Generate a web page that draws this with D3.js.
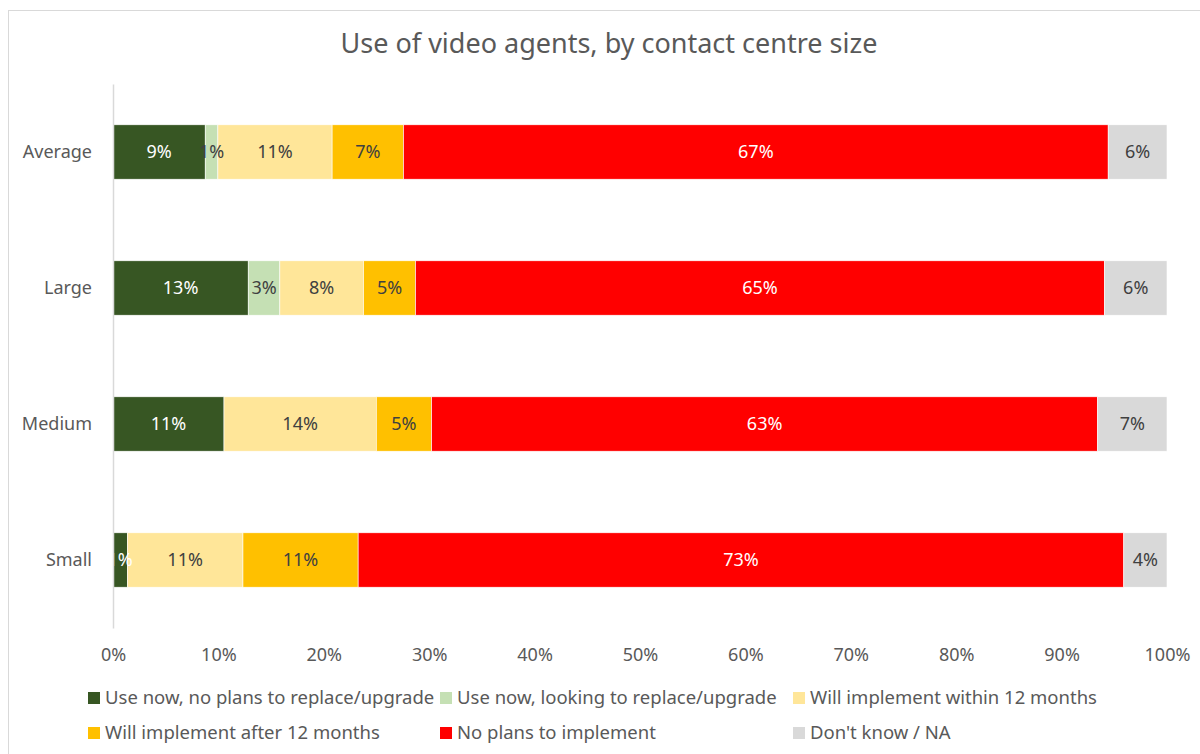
<!DOCTYPE html>
<html>
<head>
<meta charset="utf-8">
<style>
body { margin: 0; background: #fff; }
text { font-family: "Noto Sans", "Open Sans", sans-serif; }
</style>
</head>
<body>
<div id="chart"></div>
<script src="https://cdn.jsdelivr.net/npm/d3@7"></script>
<script>
(function() {
  "use strict";

  // data (percent of each size band)
  var sizes = ["Average", "Large", "Medium", "Small"];
  var seriesNames = [
    "Use now, no plans to replace/upgrade",
    "Use now, looking to replace/upgrade",
    "Will implement within 12 months",
    "Will implement after 12 months",
    "No plans to implement",
    "Don't know / NA"
  ];
  var useNoPlans   = [8.75, 12.83, 10.53, 1.36];
  var useReplacing = [1.2, 3.0, 0, 0];
  var within12     = [10.84, 7.94, 14.45, 10.97];
  var after12      = [6.77, 4.93, 5.25, 10.93];
  var noPlans      = [66.86, 65.37, 63.19, 72.64];
  var dontKnow     = [5.58, 5.93, 6.58, 4.10];
  var xTicks = [0, 10, 20, 30, 40, 50, 60, 70, 80, 90, 100];

  var colors = ["#375623", "#c5e0b4", "#ffe699", "#ffc000", "#ff0000", "#d9d9d9"];
  var labelColors = ["#ffffff", "#404040", "#404040", "#404040", "#ffffff", "#404040"];

  var W = 1200, H = 754;
  var left = 113, right = 1167;

  var seriesVals = [useNoPlans, useReplacing, within12, after12, noPlans, dontKnow];
  var rows = sizes.map(function(s, i) {
    var o = { size: s };
    seriesNames.forEach(function(n, k) { o[n] = seriesVals[k][i]; });
    return o;
  });

  var stack = d3.stack().keys(seriesNames)(rows);

  var svg = d3.select("#chart").append("svg")
    .attr("width", W)
    .attr("height", H);

  // chart frame
  svg.append("rect")
    .attr("x", 8.5).attr("y", 10.5)
    .attr("width", W + 10).attr("height", H + 10)
    .attr("fill", "none")
    .attr("stroke", "#d9d9d9");

  var x = d3.scaleLinear().domain([0, 100]).range([left, right]);
  var y = d3.scaleBand().domain(sizes).range([84, 628])
    .paddingInner(0.6).paddingOuter(0.3);

  svg.append("text")
    .attr("x", 609).attr("y", 53)
    .attr("text-anchor", "middle")
    .attr("font-size", 27)
    .attr("fill", "#595959")
    .text("Use of video agents, by contact centre size");

  var groups = svg.selectAll("g.series")
    .data(stack)
    .enter().append("g")
      .attr("class", "series")
      .attr("fill", function(d, i) { return colors[i]; });

  groups.selectAll("rect")
    .data(function(d) { return d; })
    .enter().append("rect")
      .attr("x", function(d) { return x(d[0]); })
      .attr("y", function(d) { return y(d.data.size); })
      .attr("width", function(d) { return x(d[1]) - x(d[0]); })
      .attr("height", y.bandwidth())
      .attr("stroke", "#fff")
      .attr("stroke-width", 0.6);

  // labels go on top of every bar so narrow ones are not hidden
  var labelLayer = svg.append("g");
  stack.forEach(function(s, k) {
    labelLayer.append("g").selectAll("text")
      .data(s.filter(function(d) { return d[1] - d[0] > 0; }))
      .enter().append("text")
        .attr("x", function(d) { return (x(d[0]) + x(d[1])) / 2; })
        .attr("y", function(d) { return y(d.data.size) + y.bandwidth() / 2; })
        .attr("dy", "0.35em")
        .attr("text-anchor", "middle")
        .attr("font-size", 18)
        .attr("fill", labelColors[k])
        .text(function(d) { return Math.round(d[1] - d[0]) + "%"; });
  });

  // y axis
  var yAxis = svg.append("g")
    .attr("transform", "translate(" + left + ",0)")
    .call(d3.axisLeft(y).tickSize(0).tickPadding(21));
  yAxis.select(".domain").attr("stroke", "#d9d9d9").attr("stroke-width", 1.5);
  yAxis.selectAll("text").attr("font-size", 18).attr("fill", "#595959")
    .style("font-family", "'Noto Sans', sans-serif");

  // x axis
  var xAxis = svg.append("g")
    .attr("transform", "translate(0,628)")
    .call(d3.axisBottom(x).tickValues(xTicks).tickSize(0).tickPadding(20)
      .tickFormat(function(d) { return d + "%"; }));
  xAxis.select(".domain").remove();
  xAxis.selectAll("text").attr("font-size", 18).attr("fill", "#595959")
    .style("font-family", "'Noto Sans', sans-serif");

  // legend
  var legX = [88, 440, 793];
  var legY = [698, 733];
  var leg = svg.selectAll("g.leg")
    .data(seriesNames)
    .enter().append("g")
      .attr("class", "leg")
      .attr("transform", function(d, i) {
        return "translate(" + legX[i % 3] + "," + legY[Math.floor(i / 3)] + ")";
      });
  leg.append("rect")
    .attr("x", 0).attr("y", -6)
    .attr("width", 12).attr("height", 12)
    .attr("fill", function(d, i) { return colors[i]; });
  leg.append("text")
    .attr("x", 17).attr("dy", "0.35em")
    .attr("font-size", 18.5)
    .attr("fill", "#595959")
    .text(function(d) { return d; });
})();
</script>
</body>
</html>
